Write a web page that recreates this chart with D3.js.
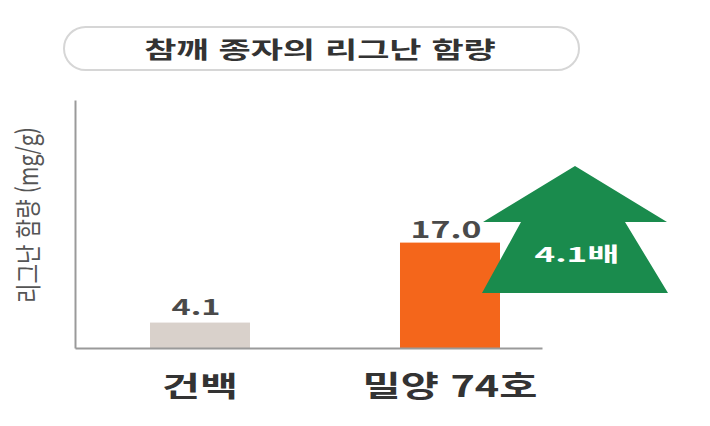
<!DOCTYPE html>
<html lang="ko">
<head>
<meta charset="UTF-8" />
<title>참깨 종자의 리그난 함량</title>
<style>
  body { margin: 0; background: #fff; }
  text { font-family: "Noto Sans CJK KR", "Noto Sans", sans-serif; }
</style>
</head>
<body>
<svg width="710" height="426" id="svg"></svg>
<script src="https://cdn.jsdelivr.net/npm/d3@7"></script>
<script>
const title = "참깨 종자의 리그난 함량"
const yLabel = "리그난 함량 (mg/g)"
const categories = ["건백", "밀양 74호"]
const values = [4.1, 17.0]
const valueLabels = ["4.1", "17.0"]
const ratioLabel = "4.1배"

const barColors = ["#d9d1cb", "#f4661b"]
const green = "#1a8b4d"

const svg = d3.select("#svg")

// the picture is stretched sideways: squeeze/stretch each text to its width
function stretch(sel, x, y, w) {
  sel.attr("x", 0).attr("y", 0).attr("text-anchor", "middle")
  const len = sel.node().getComputedTextLength()
  sel.attr("transform", `translate(${x},${y}) scale(${w / len},1)`)
}

const x = d3.scaleBand()
  .domain(categories)
  .range([75, 542])
  .paddingInner(0.6)
  .paddingOuter(0.234)
  .align(0.641)

const y = d3.scaleLinear().domain([0, 40]).range([348, 100])

// title pill
svg.append("rect")
  .attr("x", 64).attr("y", 27)
  .attr("width", 515).attr("height", 43)
  .attr("rx", 21.5)
  .attr("fill", "#fff")
  .attr("stroke", "#d6d6d6")
  .attr("stroke-width", 2)

svg.append("text")
  .attr("font-size", 23)
  .attr("font-weight", 700)
  .attr("fill", "#333")
  .text(title)
  .call(stretch, 320, 58, 352)

// bars
svg.append("g").selectAll("rect")
  .data(values)
  .join("rect")
  .attr("x", (d, i) => x(categories[i]))
  .attr("y", d => y(d))
  .attr("width", x.bandwidth())
  .attr("height", d => y(0) - y(d))
  .attr("fill", (d, i) => barColors[i])

// value labels
const valSizes = [21, 23]
const valLens = [49, 71]
svg.append("g").selectAll("text")
  .data(values)
  .join("text")
  .attr("font-weight", 700)
  .attr("fill", "#4a4a4a")
  .attr("font-size", (d, i) => valSizes[i])
  .text((d, i) => valueLabels[i])
  .each(function (d, i) {
    d3.select(this).call(stretch,
      x(categories[i]) + x.bandwidth() / 2 - 4,
      y(d) - (d > 10 ? 5 : 8),
      valLens[i])
  })

// axes
const yAxis = svg.append("g")
  .attr("transform", "translate(75,0)")
  .call(d3.axisLeft(y).tickValues([]).tickSizeOuter(0))
yAxis.select(".domain").attr("stroke", "#9a9a9a").attr("stroke-width", 2)

const xAxis = svg.append("g")
  .attr("transform", `translate(0,${y(0)})`)
  .call(d3.axisBottom(x).tickSize(0).tickSizeOuter(0))
xAxis.select(".domain").attr("stroke", "#9a9a9a").attr("stroke-width", 2)
const catLens = [76, 175]
xAxis.selectAll(".tick text")
  .attr("font-family", "'Noto Sans CJK KR', sans-serif")
  .attr("font-size", 29)
  .attr("font-weight", 700)
  .attr("fill", "#333")
  .attr("dy", null)
  .each(function (d, i) {
    d3.select(this).call(stretch, 0, 49, catLens[i])
  })

// y label
svg.append("text")
  .attr("transform", "translate(38,215) scale(1.4,1) rotate(-90)")
  .attr("text-anchor", "middle")
  .attr("font-size", 19)
  .attr("fill", "#555")
  .attr("textLength", 176)
  .attr("lengthAdjust", "spacingAndGlyphs")
  .text(yLabel)

// green arrow
const arrowX = 575, arrowTop = 166, arrowHead = 222, arrowBottom = 293
const arrow = d3.path()
arrow.moveTo(arrowX, arrowTop)
arrow.lineTo(667, arrowHead)
arrow.lineTo(625, arrowHead)
arrow.lineTo(668, arrowBottom)
arrow.lineTo(482, arrowBottom)
arrow.lineTo(521, arrowHead)
arrow.lineTo(483, arrowHead)
arrow.closePath()
svg.append("path").attr("d", arrow.toString()).attr("fill", green)

svg.append("text")
  .attr("font-size", 20)
  .attr("font-weight", 700)
  .attr("fill", "#fff")
  .text(ratioLabel)
  .call(stretch, 577, 262, 85)
</script>
</body>
</html>
